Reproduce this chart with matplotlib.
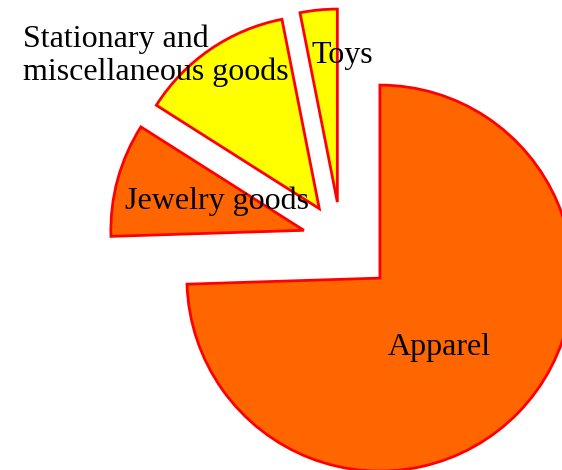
import matplotlib.pyplot as plt

# sales share by category (percent), listed counter-clockwise from 12 o'clock
categories = ['Toys', 'Stationary and\nmiscellaneous goods', 'Jewelry goods', 'Apparel']
shares = [3.1, 12.9, 9.5, 74.5]
colors = ['#FFFF00', '#FFFF00', '#FF6600', '#FF6600']
explode = [0.2, 0.2, 0.2, 0.28]

W, H = 562, 470
fig = plt.figure(figsize=(W / 100, H / 100), dpi=100)
ax = fig.add_axes([0, 0, 1, 1])

wedges, _ = ax.pie(shares, colors=colors, explode=explode, startangle=90,
                   counterclock=True, radius=1.0,
                   wedgeprops=dict(edgecolor='#FF0000', linewidth=2.0))

# pie centre sits at (341, 240) px from the top-left corner, radius 193 px
cx, cy, r = 341.1, 240.5, 193.0
ax.set_xlim(-cx / r, (W - cx) / r)
ax.set_ylim(-(H - cy) / r, cy / r)
ax.set_aspect('equal')
ax.axis('off')

# label anchors: left edge and last-line baseline, in px from the top-left
label_pos = {
    'Toys': (311, 62.7),
    'Stationary and\nmiscellaneous goods': (22.7, 80),
    'Jewelry goods': (125, 209.3),
    'Apparel': (387.3, 355),
}
for name in categories:
    px, py = label_pos[name]
    fig.text(px / W, 1 - py / H, name, ha='left', va='baseline',
             fontsize=23, family='Liberation Serif', linespacing=1.17)

plt.savefig('out.png', dpi=100)
